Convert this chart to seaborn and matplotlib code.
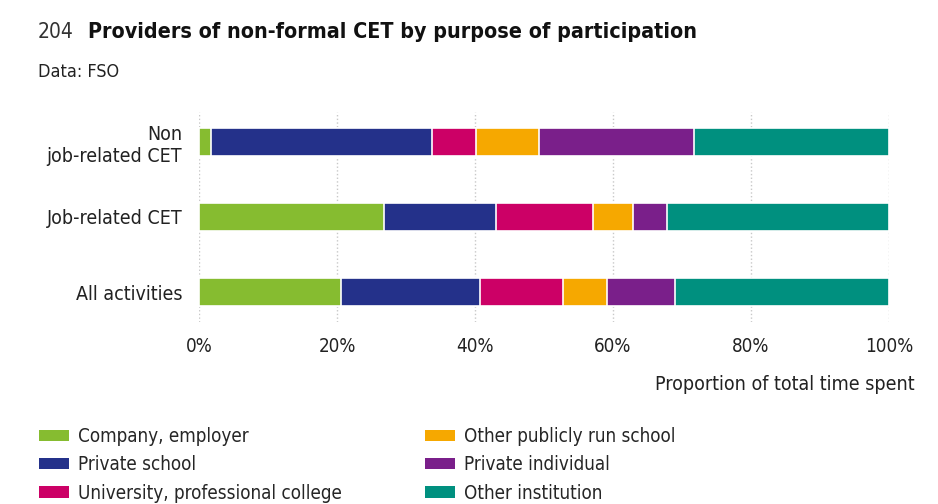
import numpy as np
import pandas as pd
import matplotlib
matplotlib.use("Agg")
import matplotlib.pyplot as plt
import seaborn as sns
from matplotlib.patches import Patch

# ---------------- DATA ----------------
purposes = ["Non\njob-related CET", "Job-related CET", "All activities"]
providers = [
    "Company, employer",
    "Private school",
    "University, professional college",
    "Other publicly run school",
    "Private individual",
    "Other institution",
]
company = [1.8, 26.8, 20.6]
private_school = [32.0, 16.2, 20.1]
university = [6.3, 14.1, 12.1]
other_public = [9.2, 5.8, 6.3]
private_individual = [22.4, 4.9, 9.9]
other_institution = [28.3, 32.2, 31.0]

colors = ["#86bc30", "#24318a", "#cc0066", "#f6a800", "#7a1f8a", "#00907f"]

values = [company, private_school, university, other_public,
          private_individual, other_institution]

df = pd.DataFrame({p: v for p, v in zip(providers, values)}, index=purposes)
cum = df.cumsum(axis=1)

sns.set_style("white")
plt.rcParams["font.family"] = ["DejaVu Sans"]
plt.rcParams["font.stretch"] = "condensed"

fig = plt.figure(figsize=(9.38, 5.04), dpi=100)
ax = fig.add_axes([199 / 938, 1 - 322 / 504, 690 / 938, 210 / 504])

# stacked bars: draw cumulative totals from the outermost segment inwards
for prov, col in reversed(list(zip(providers, colors))):
    d = pd.DataFrame({"purpose": purposes, "value": cum[prov].values})
    sns.barplot(data=d, x="value", y="purpose", orient="h", color=col,
                width=0.37, edgecolor="white", linewidth=1.2, ax=ax,
                saturation=1, zorder=3)

ax.set_xlim(0, 100)
ax.set_ylim(2.4, -0.4)
ax.set_xticks(np.arange(0, 101, 20))
ax.set_xticklabels([f"{t}%" for t in range(0, 101, 20)])
ax.set_xlabel("")
ax.set_ylabel("")
ax.grid(axis="x", linestyle=":", color="#c8c8c8", linewidth=1, zorder=0)
for s in ax.spines.values():
    s.set_visible(False)
ax.tick_params(axis="x", length=0, pad=11, labelsize=13.5, labelcolor="#222222")
ax.tick_params(axis="y", length=0, pad=12, labelsize=14, labelcolor="#222222")
for lab in ax.get_yticklabels():
    lab.set_horizontalalignment("right")
    lab.set_multialignment("right")

fig.text(915 / 938, 1 - 384 / 504, "Proportion of total time spent",
         ha="right", va="center", fontsize=14, color="#222222")

fig.text(38 / 938, 1 - 32 / 504, "204", ha="left", va="center",
         fontsize=15, color="#333333", fontweight="light")
fig.text(88 / 938, 1 - 32 / 504, "Providers of non-formal CET by purpose of participation",
         ha="left", va="center", fontsize=15.4, fontweight="bold", color="#111111")
fig.text(38 / 938, 1 - 72 / 504, "Data: FSO", ha="left", va="center",
         fontsize=13, color="#222222")

handles = [Patch(facecolor=c, edgecolor="none", label=p) for p, c in zip(providers, colors)]
fig.legend(handles=handles, loc="upper left", bbox_to_anchor=(39 / 938, 1 - 427 / 504),
           ncol=2, frameon=False, fontsize=13.5, handlelength=1.6, handleheight=0.55,
           labelspacing=0.5, columnspacing=4.4, handletextpad=0.5,
           borderaxespad=0, borderpad=0)

fig.savefig("out.png", dpi=100)
